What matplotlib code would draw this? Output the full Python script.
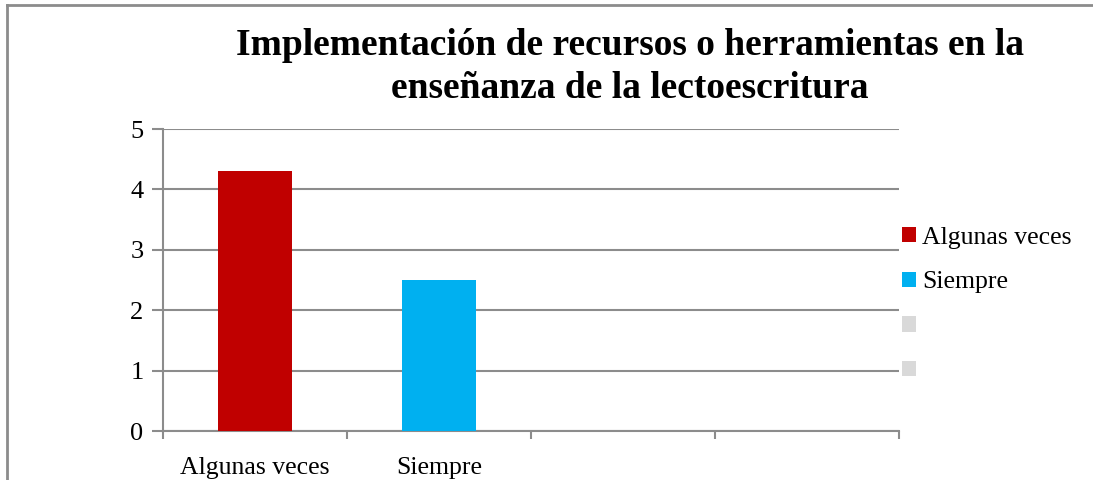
import matplotlib.pyplot as plt
from matplotlib.patches import Patch
from matplotlib.lines import Line2D

# Data
categories = ["Algunas veces", "Siempre", "", ""]
values = [4.3, 2.5, 0, 0]
legend_labels = ["Algunas veces", "Siempre", " ", " "]
colors = ["#C00000", "#00B0F0", "#D9D9D9", "#D9D9D9"]
yticks = [0, 1, 2, 3, 4, 5]

plt.rcParams["font.family"] = ["Liberation Serif", "DejaVu Serif"]
grid_color = "#8C8C8C"

fig = plt.figure(figsize=(10.93, 4.80), dpi=100)
ax = fig.add_axes([163 / 1093, 1 - 431 / 480, 736 / 1093, 302 / 480])

x = range(len(categories))
ax.bar(x, values, width=0.4, color=colors[: len(values)], zorder=3)

ax.set_xlim(-0.5, len(categories) - 0.5)
ax.set_ylim(0, 5)
ax.set_yticks(yticks)
ax.yaxis.grid(True, color=grid_color, linewidth=1.5, zorder=0)

# category labels centered, tick marks at the boundaries
ax.set_xticks(list(x))
ax.set_xticklabels(categories, fontsize=18.5)
ax.tick_params(axis="x", length=0, pad=19)
ax.set_xticks([i - 0.5 for i in range(len(categories) + 1)], minor=True)
ax.tick_params(axis="x", which="minor", length=6, width=1.5, color=grid_color)
ax.tick_params(axis="y", labelsize=19, length=8, width=1.5, color=grid_color, pad=6)

for side in ["top", "right"]:
    ax.spines[side].set_visible(False)
for side in ["left", "bottom"]:
    ax.spines[side].set_color(grid_color)
    ax.spines[side].set_linewidth(1.5)

handles = [Patch(facecolor=c, edgecolor="none") for c in colors]
fig.legend(
    handles,
    legend_labels,
    loc="upper left",
    bbox_to_anchor=(889 / 1093, 1 - 214 / 480),
    frameon=False,
    fontsize=18.5,
    handlelength=0.55,
    handleheight=0.55,
    handletextpad=0.25,
    labelspacing=0.88,
    borderpad=0,
)

fig.text(
    630 / 1093,
    1 - 67 / 480,
    "Implementación de recursos o herramientas en la\nenseñanza de la lectoescritura",
    ha="center",
    va="center",
    fontsize=27,
    fontweight="bold",
    linespacing=1.3,
)

# outer chart border (left and top only are visible)
fig.add_artist(Line2D([7 / 1093, 7 / 1093], [0, 1 - 5 / 480], color="#8C8C8C", linewidth=2))
fig.add_artist(Line2D([7 / 1093, 1], [1 - 5 / 480, 1 - 5 / 480], color="#8C8C8C", linewidth=2))

fig.savefig("out.png", dpi=100)
